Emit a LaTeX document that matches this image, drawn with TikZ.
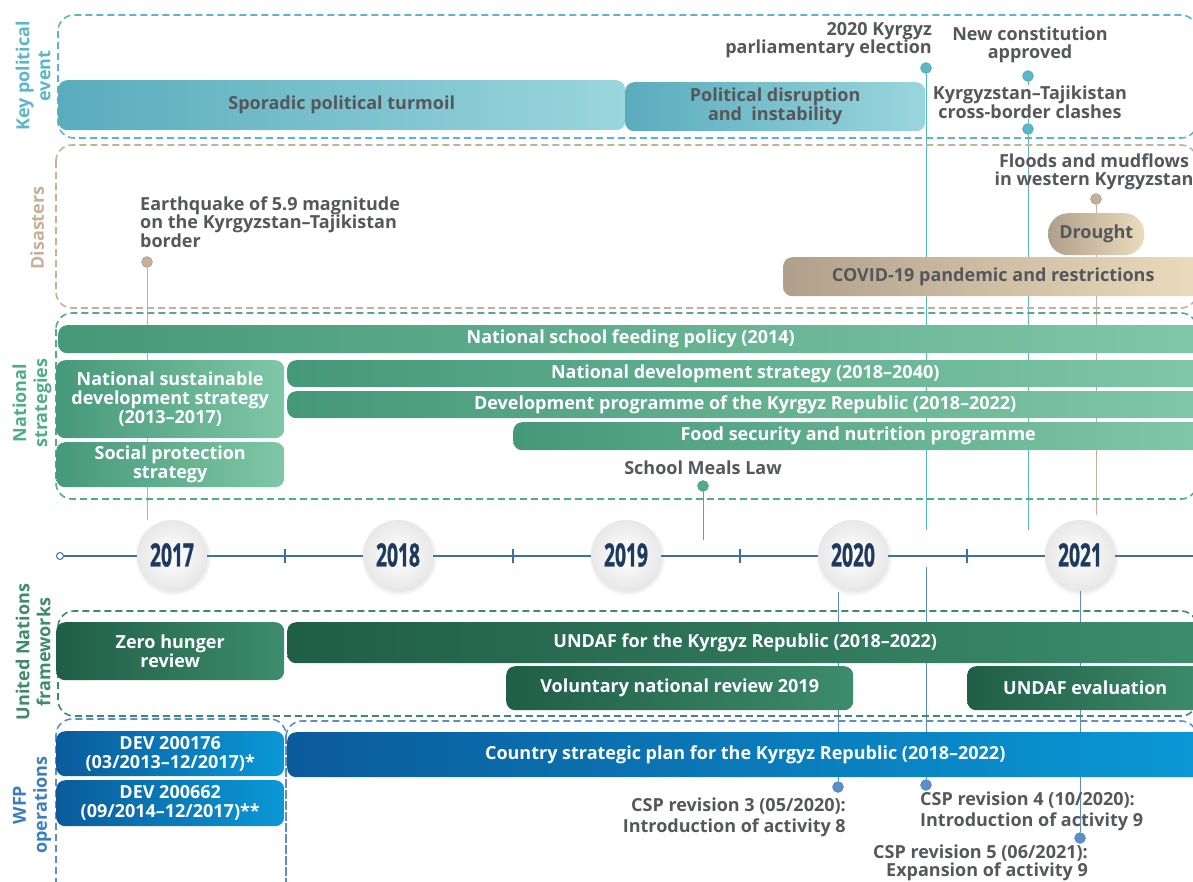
\documentclass[tikz,border=0pt]{standalone}
\usepackage{fontspec}
\setmainfont{Open Sans}
\newfontfamily\yearfont[BoldFeatures={FakeBold=1.2}]{Open Sans}
\usetikzlibrary{shadows,backgrounds}

\definecolor{polteal}{HTML}{5BB7C8}
\definecolor{polleft}{HTML}{5AACBD}
\definecolor{polright}{HTML}{9AD6DD}
\definecolor{distan}{HTML}{C5B09A}
\definecolor{disleft}{HTML}{B0A08B}
\definecolor{disright}{HTML}{EBDCBD}
\definecolor{natgreen}{HTML}{4EAE89}
\definecolor{natleft}{HTML}{46987A}
\definecolor{natright}{HTML}{7FC7A7}
\definecolor{ungreen}{HTML}{3D8B6A}
\definecolor{unleft}{HTML}{205E47}
\definecolor{unright}{HTML}{3D8C6D}
\definecolor{wfpblue}{HTML}{3B7DC0}
\definecolor{wfpleft}{HTML}{0B5B9B}
\definecolor{wfpright}{HTML}{0A98D6}
\definecolor{wfpline}{HTML}{5B8FC9}
\definecolor{txtgrey}{HTML}{555759}
\definecolor{yearnavy}{HTML}{1F3A5F}
\definecolor{lineblue}{HTML}{3B6FA8}

\begin{document}
\begin{tikzpicture}[x=1pt,y=-1pt,
  font=\fontsize{18}{19}\selectfont\bfseries,
  lanebar/.style={anchor=north west,rounded corners=9pt,inner sep=0pt,align=center},
  polbar/.style={lanebar,left color=polleft,right color=polright,text=txtgrey},
  disbar/.style={lanebar,left color=disleft,right color=disright,text=txtgrey},
  natbar/.style={lanebar,left color=natleft,right color=natright,text=white},
  unbar/.style={lanebar,left color=unleft,right color=unright,text=white},
  wfpbar/.style={lanebar,left color=wfpleft,right color=wfpright,text=white},
  laneframe/.style={rounded corners=16pt,dash pattern=on 7pt off 4pt,line width=1.6pt},
  catlabel/.style={rotate=90,align=center,font=\fontsize{18}{21}\selectfont\bfseries},
  evtext/.style={text=txtgrey,align=center,inner sep=1pt,font=\fontsize{18}{18.5}\selectfont\bfseries},
  evdot/.style={circle,inner sep=0pt,minimum size=11pt,fill=#1,draw=#1!80!black,line width=0.3pt},
  link/.style={line width=0.9pt,draw=#1},
  yearball/.style={circle,minimum size=70pt,inner color=white,outer color=gray!18,
    circular drop shadow={opacity=0.2,shadow xshift=1pt,shadow yshift=-2pt},
    text=yearnavy,font=\yearfont\fontsize{32}{32}\selectfont\bfseries}]
\path[use as bounding box,clip] (0,0) rectangle (1193,881);

% lane frames
\draw[laneframe,polteal] (58,15) rectangle (1197,138);
\draw[laneframe,distan] (56,145) rectangle (1197,308);
\draw[laneframe,natgreen] (56,313) rectangle (1197,499);
\draw[laneframe,ungreen] (58,611) rectangle (1197,716);
\draw[laneframe,wfpline] (56,719) rectangle (286,900);
\draw[laneframe,wfpline] (286,721) rectangle (1197,900);

% lane labels
\node[catlabel,text=polteal] (polcat) at (33,76) {Key political\\event};
\node[catlabel,text=distan] (discat) at (37,228) {Disasters};
\node[catlabel,text=natgreen] (natcat) at (32,403) {National\\strategies};
\node[catlabel,text=ungreen] (uncat) at (33,652) {United Nations\\frameworks};
\node[catlabel,text=wfpblue] (wfpcat) at (32,805) {WFP\\operations};

% key political events
\node[polbar,minimum width=567,minimum height=50] (turmoil) at (58,80) {Sporadic political turmoil};
\node[polbar,minimum width=300,minimum height=49] (disrupt) at (625,82) {Political disruption\\and\ \ instability};
\node[evtext,anchor=east,align=right] (electlbl) at (933,40) {2020 Kyrgyz\\parliamentary election};
\node[evdot=polteal] (electdot) at (926,68) {};
\node[evtext] (constlbl) at (1030,45) {New constitution\\approved};
\node[evdot=polteal] (constdot) at (1028,76) {};
\node[evtext,fill=white] (clashlbl) at (1030,102) {Kyrgyzstan–Tajikistan\\cross-border clashes};
\node[evdot=polteal] (clashdot) at (1028,129) {};

% disasters
\node[evtext,anchor=west,align=left] (quakelbl) at (139,222) {Earthquake of 5.9 magnitude\\on the Kyrgyzstan–Tajikistan\\border};
\node[evdot=distan] (quakedot) at (147,262) {};
\node[evtext] (floodlbl) at (1094,172) {Floods and mudflows\\in western Kyrgyzstan};
\node[evdot=distan] (flooddot) at (1096,199) {};
\node[disbar,rounded corners=20,minimum width=96,minimum height=42] (drought) at (1048,213) {Drought};
\node[disbar,minimum width=420,minimum height=39] (covid) at (783,257) {COVID-19 pandemic and restrictions};

% national strategies
\node[natbar,minimum width=1145,minimum height=28] (feeding) at (58,325) {National school feeding policy (2014)};
\node[natbar,minimum width=228,minimum height=78] (nsds) at (56,360) {National sustainable\\development strategy\\(2013–2017)};
\node[natbar,minimum width=228,minimum height=45] (socprot) at (56,442) {Social protection\\strategy};
\node[natbar,minimum width=916,minimum height=27] (nds) at (287,360) {National development strategy (2018–2040)};
\node[natbar,minimum width=916,minimum height=27] (devprog) at (287,391) {Development programme of the Kyrgyz Republic (2018–2022)};
\node[natbar,minimum width=690,minimum height=28] (foodsec) at (513,422) {Food security and nutrition programme};
\node[evtext] (meallbl) at (703,468) {School Meals Law};
\node[evdot=natgreen] (mealdot) at (703,486) {};

% timeline
\node[circle,draw=lineblue,fill=white,line width=1pt,inner sep=0pt,minimum size=7] (tstart) at (60,556) {};
\coordinate (tend) at (1200,556);
\draw[lineblue,line width=1.2pt] (tstart) -- (tend);
\foreach \x in {285,513,740,967}
  \draw[lineblue,line width=1.2pt] (\x,549) -- (\x,563);
\foreach \yr/\x in {2017/172,2018/398,2019/626,2020/853,2021/1080}
  \node[yearball] (y\yr) at (\x,555) {\scalebox{0.6}[1]{\yr}};

% united nations frameworks
\node[unbar,minimum width=228,minimum height=58] (zerohunger) at (56,622) {Zero hunger\\review};
\node[unbar,minimum width=916,minimum height=41] (undaf) at (287,622) {UNDAF for the Kyrgyz Republic (2018–2022)};
\node[unbar,minimum width=347,minimum height=44] (vnr) at (506,666) {Voluntary national review 2019};
\node[unbar,minimum width=236,minimum height=44] (undafeval) at (967,666) {UNDAF evaluation};

% wfp operations
\node[wfpbar,minimum width=228,minimum height=45] (dev176) at (56,731) {DEV 200176\\(03/2013–12/2017)*};
\node[wfpbar,minimum width=228,minimum height=46] (dev662) at (56,780) {DEV 200662\\(09/2014–12/2017)**};
\node[wfpbar,minimum width=916,minimum height=45] (csp) at (287,732) {Country strategic plan for the Kyrgyz Republic (2018–2022)};
\node[evdot=wfpline] (rev3dot) at (838,787) {};
\node[evtext,anchor=east,align=right,font=\fontsize{18}{21}\selectfont\bfseries] (rev3lbl) at (847,817) {CSP revision 3 (05/2020):\\Introduction of activity 8};
\node[evdot=wfpline] (rev4dot) at (926,785) {};
\node[evtext,anchor=west,align=left,font=\fontsize{18}{21}\selectfont\bfseries] (rev4lbl) at (919,811) {CSP revision 4 (10/2020):\\Introduction of activity 9};
\node[evdot=wfpline] (rev5dot) at (1080,838) {};
\node[evtext,anchor=east,align=right,font=\fontsize{18}{16}\selectfont\bfseries] (rev5lbl) at (1089,863) {CSP revision 5 (06/2021):\\Expansion of activity 9};

% free ends of the event lines
\coordinate (electend) at (926,530);
\coordinate (clashend) at (1028,530);
\coordinate (quakeend) at (147,520);
\coordinate (floodend) at (1096,515);
\coordinate (mealend) at (703,540);
\coordinate (rev3top) at (838,592);
\coordinate (rev4top) at (926,567);
\coordinate (rev5top) at (1080,591);

\begin{scope}[on background layer]
  \draw[link=polteal] (electdot) -- (electend);
  \draw[link=polteal] (constdot) -- (clashdot) -- (clashend);
  \draw[link=distan] (quakedot) -- (quakeend);
  \draw[link=distan] (flooddot) -- (floodend);
  \draw[link=natgreen] (mealdot) -- (mealend);
  \draw[link=wfpline] (rev3top) -- (rev3dot);
  \draw[link=wfpline] (rev4top) -- (rev4dot);
  \draw[link=wfpline] (rev5top) -- (rev5dot);
\end{scope}
\end{tikzpicture}
\end{document}
